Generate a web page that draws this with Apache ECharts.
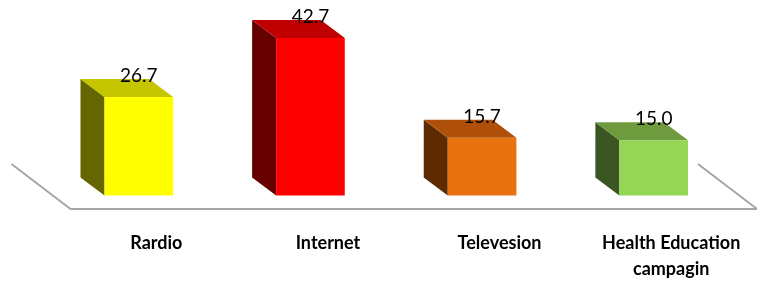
<!DOCTYPE html>
<html>
<head>
<meta charset="utf-8">
<script src="https://cdn.jsdelivr.net/npm/echarts@6/dist/echarts.min.js"></script>
<style>html,body{margin:0;padding:0;background:#fff;}#c{width:757px;height:282px;}</style>
</head>
<body>
<div id="c"></div>
<script>
const categories = ['Rardio', 'Internet', 'Televesion', 'Health Education\ncampagin'];
const values = [26.7, 42.7, 15.7, 15.0];
const valueLabels = ['26.7', '42.7', '15.7', '15.0'];
const frontColors = ['#ffff00', '#ff0000', '#e8720f', '#96d656'];
const topColors = ['#c6c600', '#c00000', '#ae500a', '#6e9b3e'];
const sideColors = ['#666600', '#660000', '#5e2a00', '#3b5623'];

const DX = 24, DY = 18;        // bar depth offset
const FDX = 59, FDY = 45;      // floor depth offset
const BAR_W_RATIO = 0.4;

const chart = echarts.init(document.getElementById('c'), null, {renderer: 'canvas'});

function renderBar(params, api) {
  const i = api.value(0);
  const v = api.value(1);
  const top = api.coord([i, v]);
  const base = api.coord([i, 0]);
  const band = api.size([1, 0])[0];
  const w = band * BAR_W_RATIO;
  const shiftX = -FDX / 2 + DX / 2;
  const shiftY = -FDY / 2 + DY / 2;
  const cx = base[0] + shiftX;
  const x0 = cx - w / 2, x1 = cx + w / 2;
  const yb = base[1] + shiftY;
  const yt = top[1] + shiftY;
  return {
    type: 'group',
    children: [
      { type: 'polygon', shape: { points: [[x0, yt], [x0 - DX, yt - DY], [x0 - DX, yb - DY], [x0, yb]] },
        style: { fill: sideColors[i] } },
      { type: 'polygon', shape: { points: [[x0, yt], [x0 - DX, yt - DY], [x1 - DX, yt - DY], [x1, yt]] },
        style: { fill: topColors[i] } },
      { type: 'rect', shape: { x: x0, y: yt, width: w, height: yb - yt },
        style: { fill: frontColors[i] } },
      { type: 'text', x: cx, y: yt - DY - 3,
        style: { text: valueLabels[i], fill: '#000', font: '19px Lato', align: 'center', verticalAlign: 'middle' } }
    ]
  };
}

function renderFloor(params, api) {
  const cs = params.coordSys;
  const xl = cs.x, xr = cs.x + cs.width, yb = cs.y + cs.height;
  return {
    type: 'polyline',
    shape: { points: [[xl - FDX, yb - FDY], [xl, yb], [xr, yb], [xr - FDX, yb - FDY]] },
    style: { stroke: '#a6a6a6', lineWidth: 2, fill: null }
  };
}

chart.setOption({
  animation: false,
  grid: { left: 70.5, width: 695, bottom: 70, top: 24.7, containLabel: false },
  xAxis: {
    type: 'category',
    data: categories,
    axisLine: { show: false },
    axisTick: { show: false },
    axisLabel: { color: '#000', fontFamily: 'Lato', fontWeight: 'bold', fontSize: 18, lineHeight: 26, margin: 21, interval: 0 }
  },
  yAxis: { type: 'value', min: 0, max: 50, show: false, splitLine: { show: false } },
  series: [
    { type: 'custom', renderItem: renderFloor, data: [[0, 0]], clip: false, silent: true },
    { type: 'custom', renderItem: renderBar, data: values.map((v, i) => [i, v]), clip: false }
  ]
});
</script>
</body>
</html>
